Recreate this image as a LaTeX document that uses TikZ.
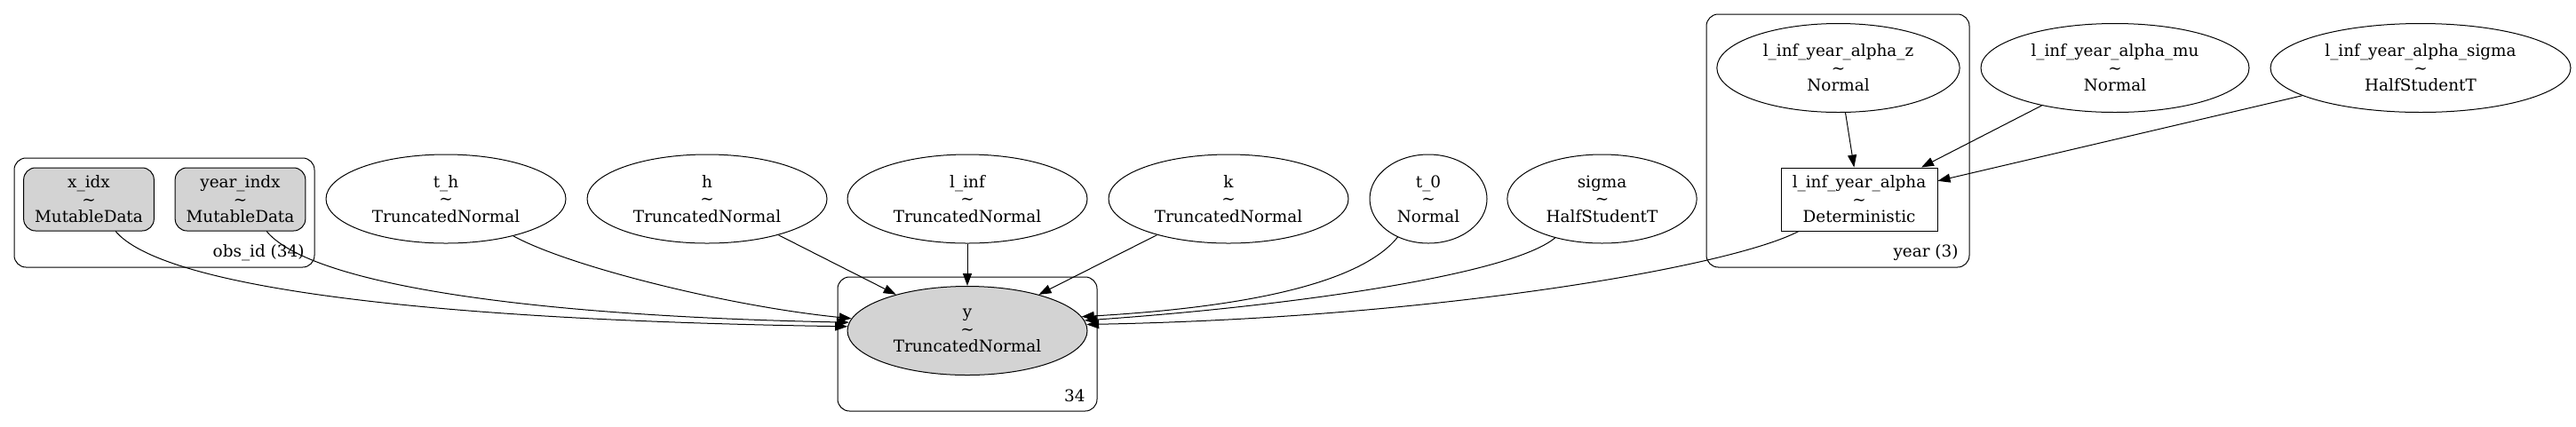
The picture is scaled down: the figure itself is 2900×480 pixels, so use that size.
\documentclass[tikz,border=0pt]{standalone}
\usepackage{fontspec}
\setmainfont{DejaVu Serif}
\usepackage{tikz}
\usetikzlibrary{shapes.geometric,arrows.meta}
\definecolor{obsgray}{HTML}{D3D3D3}
\newcommand{\rvlabel}[2]{#1\\\textasciitilde\\#2}

\begin{document}
\begin{tikzpicture}[x = 0.75pt, y = -0.75pt, line width = 0.75pt,
    font = \fontsize{13.8}{14.6}\selectfont,
    rv/.style = {ellipse, draw, inner sep = 0pt, minimum height = 75pt, align = center},
    obs/.style = {rv, fill = obsgray},
    data/.style = {rectangle, draw, rounded corners = 10pt, fill = obsgray, minimum width = 110pt, minimum height = 53.25pt, align = center},
    det/.style = {rectangle, draw, minimum width = 132pt, minimum height = 53.25pt, align = center},
    plate/.style = {rounded corners = 10pt},
    platelabel/.style = {anchor = east, inner sep = 0pt},
    arr/.style = {-{Triangle[length = 10.5pt, width = 7.5pt]}}]
\useasboundingbox (0,0) rectangle (2900,480);
% plates
\draw[plate] (16,178) rectangle (354,301);
\draw[plate] (943,312) rectangle (1235,463);
\draw[plate] (1921,16) rectangle (2217,301);
\draw (343,285) node[platelabel](l1){obs\_id (34)}
    (1222,446) node[platelabel](l2){34}
    (2205,285) node[platelabel](l3){year (3)};
% variables
\draw (100,224.5) node[data](v1){\rvlabel{x\_idx}{MutableData}}
    (270.5,224.5) node[data](v2){\rvlabel{year\_indx}{MutableData}}
    (502,224) node[rv, minimum width = 202.5pt](v3){\rvlabel{t\_h}{TruncatedNormal}}
    (796,224) node[rv, minimum width = 202.5pt](v4){\rvlabel{h}{TruncatedNormal}}
    (1089,224) node[rv, minimum width = 202.5pt](v5){\rvlabel{l\_inf}{TruncatedNormal}}
    (1383,224) node[rv, minimum width = 202.5pt](v6){\rvlabel{k}{TruncatedNormal}}
    (1608,224) node[rv, minimum width = 99pt](v7){\rvlabel{t\_0}{Normal}}
    (1803.5,224) node[rv, minimum width = 160pt](v8){\rvlabel{sigma}{HalfStudentT}}
    (2069.5,76.5) node[rv, minimum width = 205pt](v9){\rvlabel{l\_inf\_year\_alpha\_z}{Normal}}
    (2381,76.5) node[rv, minimum width = 226.5pt](v10){\rvlabel{l\_inf\_year\_alpha\_mu}{Normal}}
    (2725,76.5) node[rv, minimum width = 253.5pt](v11){\rvlabel{l\_inf\_year\_alpha\_sigma}{HalfStudentT}}
    (2093,224.5) node[det](v12){\rvlabel{l\_inf\_year\_alpha}{Deterministic}}
    (1089,372.5) node[obs, minimum width = 202.5pt](v13){\rvlabel{y}{TruncatedNormal}};
% edges
\draw[arr] (v1) .. controls (180,320) and (450,360) .. (v13.178);
\draw[arr] (v2) .. controls (345,315) and (560,355) .. (v13.176);
\draw[arr] (v3) .. controls (640,300) and (820,345) .. (v13.174);
\draw[arr] (v4) -- (v13);
\draw[arr] (v5) -- (v13);
\draw[arr] (v6) -- (v13);
\draw[arr] (v7) .. controls (1535,315) and (1420,345) .. (v13.7);
\draw[arr] (v8) .. controls (1700,310) and (1450,345) .. (v13.5);
\draw[arr] (v12) .. controls (1950,300) and (1620,358) .. (v13.3);
\draw[arr] (v9) -- (v12);
\draw[arr] (v10) -- (v12);
\draw[arr] (v11) -- (v12);
\end{tikzpicture}
\end{document}
